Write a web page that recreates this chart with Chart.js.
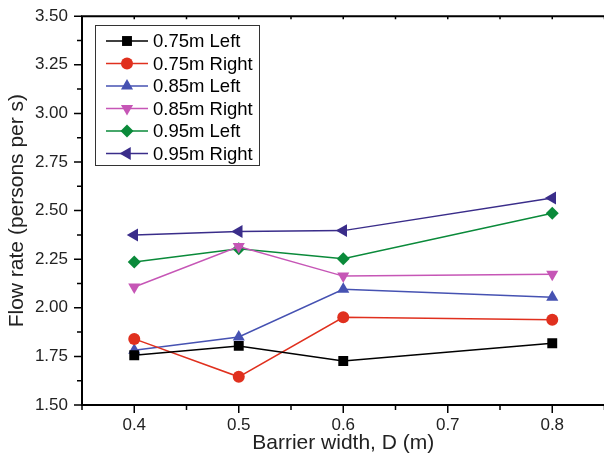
<!DOCTYPE html>
<html lang="en">
<head>
    <meta charset="UTF-8">
    <title>Flow rate vs barrier width</title>
    <script src="https://cdn.jsdelivr.net/npm/chart.js"></script>
    <style>
        html, body {
            margin: 0;
            padding: 0;
            background: #ffffff;
            overflow: hidden;
        }
        .chart-box {
            width: 612px;
            height: 468px;
        }
    </style>
</head>
<body>
    <div class="chart-box">
        <canvas id="flowChart"></canvas>
    </div>

    <script>
        // Data
        const widths = [0.4, 0.5, 0.6, 0.8];
        const seriesNames = ['0.75m Left', '0.75m Right', '0.85m Left', '0.85m Right', '0.95m Left', '0.95m Right'];
        const left075  = [1.756, 1.804, 1.726, 1.818];
        const right075 = [1.840, 1.645, 1.951, 1.939];
        const left085  = [1.782, 1.850, 2.095, 2.054];
        const right085 = [2.107, 2.315, 2.163, 2.172];
        const left095  = [2.235, 2.304, 2.252, 2.486];
        const right095 = [2.375, 2.392, 2.397, 2.565];
        const xTickLabels = [0.4, 0.5, 0.6, 0.7, 0.8];
        const yTickLabels = [1.5, 1.75, 2.0, 2.25, 2.5, 2.75, 3.0, 3.25, 3.5];

        const FONT = 'Arial, "Liberation Sans", sans-serif';

        function toPoints(values) {
            return values.map((v, i) => ({ x: widths[i], y: v }));
        }

        const styles = [
            { color: '#000000', shape: 'rect',     radius: 7,   rotation: 0 },
            { color: '#e0301e', shape: 'circle',   radius: 6,   rotation: 0 },
            { color: '#4652b2', shape: 'triangle', radius: 7,   rotation: 0 },
            { color: '#c656b6', shape: 'triangle', radius: 7,   rotation: 180 },
            { color: '#0a8a3a', shape: 'rectRot',  radius: 6.5, rotation: 0 },
            { color: '#3a2d8a', shape: 'triangle', radius: 7.5, rotation: -90 }
        ];
        const allValues = [left075, right075, left085, right085, left095, right095];

        const datasets = allValues.map((vals, i) => ({
            label: seriesNames[i],
            data: toPoints(vals),
            borderColor: styles[i].color,
            backgroundColor: styles[i].color,
            borderWidth: 1.5,
            pointStyle: styles[i].shape,
            pointRadius: styles[i].radius,
            pointRotation: styles[i].rotation,
            pointBorderWidth: 0,
            pointBackgroundColor: styles[i].color,
            tension: 0
        }));

        function near(v, list) {
            return list.some(t => Math.abs(t - v) < 1e-6);
        }

        // frame, tick marks and in-plot legend
        const decorations = {
            id: 'decorations',
            afterDraw(chart) {
                const c = chart.ctx;
                const area = chart.chartArea;
                const xs = chart.scales.x;
                const ys = chart.scales.y;
                c.save();
                c.strokeStyle = '#000';
                c.lineWidth = 2;
                c.beginPath();
                c.moveTo(area.left, area.bottom);
                c.lineTo(area.left, area.top);
                c.lineTo(area.right, area.top);
                c.moveTo(area.left - 1, area.bottom);
                c.lineTo(area.right, area.bottom);
                c.stroke();

                c.lineWidth = 1.5;
                c.beginPath();
                xs.ticks.forEach(t => {
                    const px = xs.getPixelForValue(t.value);
                    const len = near(t.value, xTickLabels) ? 8 : 5;
                    c.moveTo(px, area.bottom);
                    c.lineTo(px, area.bottom + len);
                    c.moveTo(px, area.top);
                    c.lineTo(px, area.top + 3);
                });
                ys.ticks.forEach(t => {
                    const py = ys.getPixelForValue(t.value);
                    const len = near(t.value, yTickLabels) ? 8 : 5;
                    c.moveTo(area.left, py);
                    c.lineTo(area.left - len, py);
                });
                c.stroke();

                // legend box
                const bx = 95, by = 25, bw = 164, bh = 140, rowH = 22.5;
                c.lineWidth = 1;
                c.strokeStyle = '#333';
                c.strokeRect(bx + 0.5, by + 0.5, bw, bh);
                c.font = '18.5px ' + FONT;
                c.textBaseline = 'middle';
                c.textAlign = 'left';
                chart.data.datasets.forEach((ds, i) => {
                    const y = by + 16 + i * rowH;
                    c.strokeStyle = ds.borderColor;
                    c.lineWidth = 1.5;
                    c.beginPath();
                    c.moveTo(bx + 11, y);
                    c.lineTo(bx + 53, y);
                    c.stroke();
                    c.fillStyle = ds.pointBackgroundColor;
                    Chart.helpers.drawPoint(c, {
                        pointStyle: ds.pointStyle,
                        radius: ds.pointRadius,
                        rotation: ds.pointRotation,
                        borderWidth: 0
                    }, bx + 32, y);
                    c.fillStyle = '#000';
                    c.fillText(ds.label, bx + 58, y + 1);
                });
                c.restore();
            }
        };

        const ctx = document.getElementById('flowChart').getContext('2d');
        const flowChart = new Chart(ctx, {
            type: 'line',
            data: { datasets: datasets },
            options: {
                responsive: true,
                maintainAspectRatio: false,
                animation: false,
                layout: { padding: { top: 9, right: 0, left: 5, bottom: 12 } },
                plugins: {
                    legend: { display: false },
                    tooltip: { enabled: false }
                },
                scales: {
                    x: {
                        type: 'linear',
                        min: 0.35,
                        max: 0.85,
                        grid: { display: false },
                        border: { display: false },
                        afterBuildTicks(scale) {
                            const out = [];
                            for (let k = 7; k <= 17; k++) out.push({ value: k * 0.05 });
                            scale.ticks = out;
                        },
                        ticks: {
                            autoSkip: false,
                            maxRotation: 0,
                            padding: 2,
                            color: '#222',
                            font: { family: FONT, size: 17 },
                            callback: v => near(v, xTickLabels) ? v.toFixed(1) : ''
                        },
                        title: {
                            display: true,
                            text: 'Barrier width, D (m)',
                            color: '#222',
                            font: { family: FONT, size: 21 },
                            padding: { top: 1, bottom: 0 }
                        },
                        afterFit(scale) { scale.height = 51; }
                    },
                    y: {
                        min: 1.5,
                        max: 3.5,
                        grid: { display: false },
                        border: { display: false },
                        afterBuildTicks(scale) {
                            const out = [];
                            for (let k = 12; k <= 28; k++) out.push({ value: k * 0.125 });
                            scale.ticks = out;
                        },
                        ticks: {
                            autoSkip: false,
                            padding: 6,
                            color: '#222',
                            font: { family: FONT, size: 17 },
                            callback: v => near(v, yTickLabels) ? v.toFixed(2) : ''
                        },
                        title: {
                            display: true,
                            text: 'Flow rate (persons per s)',
                            color: '#222',
                            font: { family: FONT, size: 21 },
                            padding: { top: 0, bottom: 4 }
                        },
                        afterFit(scale) { scale.width = 77; }
                    }
                }
            },
            plugins: [decorations]
        });
    </script>
</body>
</html>
